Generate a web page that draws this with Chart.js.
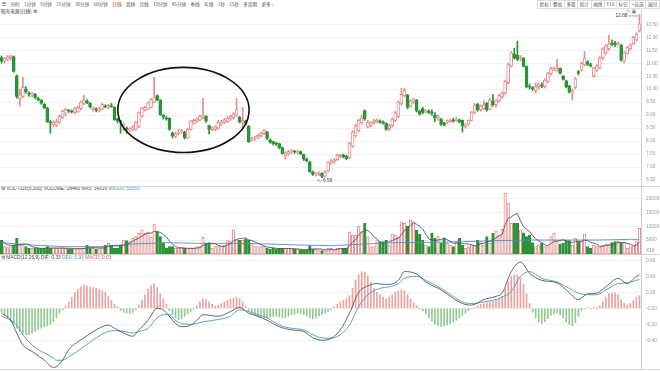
<!DOCTYPE html>
<html>
<head>
<meta charset="utf-8">
<title>日线 K线图</title>
<script src="https://cdn.jsdelivr.net/npm/chart.js"></script>
<style>
  html, body { margin: 0; padding: 0; background: #fff; }
  body { position: relative; width: 660px; height: 371px; overflow: hidden;
         font-family: "Noto Sans CJK SC", "Liberation Sans", sans-serif; color: #555; }
  canvas { position: absolute; left: 0; }
  .tools { position: absolute; left: 2px; top: 1px; font-size: 4.6px; line-height: 7px; white-space: nowrap; }
  .tools span { margin-right: 4.4px; }
  .tools .on { color: #e03030; }
  .btns { position: absolute; left: 537px; top: 0; display: flex; font-size: 4.6px; white-space: nowrap; }
  .btns span { border: 1px solid #dcdcdc; border-left: none; padding: 0 1.6px; line-height: 7px; }
  .btns span:first-child { border-left: 1px solid #dcdcdc; }
  .name { position: absolute; left: 1px; top: 8px; font-size: 4.6px; line-height: 6px; color: #333; white-space: nowrap; }
  .icons { position: absolute; left: 626px; top: 8px; font-size: 5px; line-height: 6px; color: #777; font-family: "DejaVu Sans", sans-serif; }
  .hd { position: absolute; left: 1px; font-size: 4.8px; line-height: 6px; white-space: nowrap; color: #444; font-family: "Liberation Sans", sans-serif; }
  .hline { position: absolute; left: 0; width: 660px; height: 1px; background: #d4d4d4; }
  .vline { position: absolute; left: 641px; top: 10px; width: 1px; height: 360px; background: #cfcfcf; }
</style>
</head>
<body>
<div class="tools"><span>☰</span><span>分时</span><span>1分钟</span><span>5分钟</span><span>15分钟</span><span>30分钟</span><span>60分钟</span><span class="on">日线</span><span>周线</span><span>月线</span><span>10分钟</span><span>45分钟</span><span>季线</span><span>年线</span><span>1秒</span><span>15秒</span><span>多周期</span><span>更多 ›</span></div>
<div class="btns"><span>复权</span><span>叠加</span><span>多股</span><span>统计</span><span>画线</span><span>F10</span><span>标记</span><span>+自选</span><span>返回</span></div>
<div class="name">阳光电源(日线) ⚙</div>
<div class="icons">◇ ▣</div>

<canvas id="kline" width="660" height="176" style="top:10px"></canvas>
<canvas id="vol" width="660" height="61" style="top:193px"></canvas>
<canvas id="macd" width="660" height="111" style="top:258px"></canvas>

<div class="hd" style="top:186px">⚙ VOL-TDX(5,100) VOLUME: 18460 <span style="color:#5d4e6e">MA5: 34316</span> <span style="color:#4f92c4">MA100: 50550</span></div>
<div class="hd" style="top:255px">⚙ MACD(12,26,9) DIF: 0.33 <span style="color:#4a9abb">DEA: 0.32</span> <span style="color:#d06060">MACD: 0.03</span></div>

<div class="hline" style="top:186px"></div>
<div class="hline" style="top:254px"></div>
<div class="hline" style="top:369px"></div>
<div class="vline"></div>

<script>
// daily candles
const opens = [
  11.22,11.08,11.15,11.20,11.26,10.50,9.62,9.72,10.00,9.85,
  9.78,9.80,9.62,9.58,9.42,9.28,8.72,8.62,8.60,8.72,
  8.90,9.05,9.20,9.15,9.10,9.12,9.25,9.45,9.55,9.45,
  9.20,9.22,9.18,9.22,9.35,9.30,9.35,9.30,8.85,8.76,
  8.60,8.50,8.42,8.45,8.45,8.55,8.95,9.20,9.22,9.30,
  9.50,9.75,9.58,9.00,8.90,8.88,8.30,8.18,8.30,8.35,
  8.35,8.12,8.45,8.70,8.78,8.82,8.90,8.95,8.60,8.45,
  8.45,8.50,8.65,8.72,8.75,8.85,8.90,8.98,8.92,8.72,
  8.78,8.58,8.05,8.08,8.15,8.20,8.30,8.35,8.05,7.98,
  7.92,7.90,7.75,7.45,7.50,7.58,7.60,7.55,7.60,7.48,
  7.30,7.20,6.82,6.72,6.72,6.76,6.65,6.85,7.15,7.20,
  7.28,7.40,7.45,7.42,7.35,7.80,8.20,8.40,8.70,9.18,
  8.55,8.60,8.68,8.75,8.78,8.72,8.68,8.48,8.60,8.80,
  8.95,9.45,9.75,9.78,9.35,9.50,9.58,9.15,9.25,9.12,
  9.15,9.12,9.00,8.90,8.85,8.68,8.72,8.75,8.80,8.78,
  8.82,8.80,8.55,8.65,8.80,9.10,9.42,9.20,9.25,9.45,
  9.22,9.55,9.40,9.55,9.70,9.85,10.25,10.90,11.35,11.30,
  11.20,11.20,10.88,10.10,10.05,9.95,10.10,10.15,10.10,10.30,
  10.60,10.75,10.72,10.80,10.50,10.32,10.12,9.90,10.08,10.68,
  10.72,10.95,11.05,10.95,10.50,10.72,10.82,11.20,11.40,11.55,
  11.78,11.78,11.75,11.70,11.08,11.38,11.55,11.75,11.90,12.25
];
const highs = [
  11.28,11.22,11.30,11.32,11.28,10.55,10.00,10.46,10.10,9.90,
  9.88,9.84,9.70,9.60,9.45,9.30,8.80,8.78,8.85,9.00,
  9.20,9.25,9.22,9.20,9.30,9.35,9.55,9.77,9.60,9.48,
  9.32,9.28,9.30,9.45,9.40,9.42,9.45,9.32,8.88,8.80,
  8.70,8.55,8.52,8.60,8.75,9.12,9.30,9.35,9.50,9.65,
  10.46,9.78,9.60,9.02,8.95,8.90,8.35,8.35,8.45,8.45,
  8.38,8.50,8.80,8.85,8.90,9.00,9.65,8.98,8.62,8.55,
  8.60,8.80,8.80,8.88,8.95,9.00,9.10,9.65,8.95,9.30,
  8.80,8.60,8.15,8.18,8.25,8.35,8.45,8.38,8.08,8.00,
  7.95,7.92,7.77,7.60,7.65,7.68,7.65,7.65,7.62,7.50,
  7.35,7.22,6.85,6.80,6.82,6.78,6.85,7.20,7.30,7.32,
  7.50,7.50,7.50,7.45,7.95,8.40,8.65,8.85,9.00,9.20,
  8.80,8.75,8.85,8.85,8.82,8.78,8.70,8.65,8.90,9.15,
  9.55,10.04,10.04,9.80,9.60,9.65,9.60,9.18,9.30,9.22,
  9.20,9.20,9.10,9.00,8.88,8.72,8.82,8.85,8.88,8.92,
  8.85,8.82,8.68,8.82,9.15,9.45,9.45,9.40,9.55,9.48,
  9.65,9.80,9.60,9.80,9.90,10.35,11.00,11.45,11.58,11.85,
  11.30,11.22,10.90,10.20,10.10,10.25,10.25,10.25,10.40,10.65,
  10.85,10.85,11.15,10.82,10.52,10.35,10.15,10.00,10.45,10.72,
  11.05,11.45,11.10,11.00,10.85,10.95,11.25,11.60,11.72,12.08,
  11.90,11.85,11.82,11.72,11.45,11.65,11.75,12.05,12.18,12.88
];
const lows = [
  11.00,11.00,11.10,11.12,10.65,9.65,9.35,9.68,9.85,9.72,
  9.70,9.62,9.55,9.42,9.25,8.72,8.30,8.55,8.55,8.68,
  8.88,8.98,9.10,9.08,9.05,9.10,9.20,9.40,9.44,9.28,
  9.15,9.12,9.12,9.20,9.28,9.25,9.30,8.80,8.70,8.30,
  8.40,8.30,8.36,8.40,8.42,8.52,8.92,9.15,9.20,9.28,
  9.48,9.55,9.00,8.85,8.80,8.42,8.12,8.12,8.25,8.30,
  8.08,8.10,8.42,8.65,8.72,8.78,8.85,8.72,8.28,8.40,
  8.40,8.45,8.60,8.68,8.72,8.80,8.85,8.95,8.70,8.55,
  8.62,7.95,8.00,8.02,8.10,8.15,8.25,8.05,7.92,7.85,
  7.82,7.70,7.50,7.30,7.45,7.52,7.52,7.50,7.48,7.25,
  7.20,6.80,6.68,6.65,6.68,6.58,6.62,6.82,7.10,7.15,
  7.25,7.35,7.35,7.28,7.32,7.75,8.15,8.35,8.65,8.80,
  8.50,8.55,8.65,8.70,8.68,8.65,8.42,8.40,8.55,8.75,
  8.90,9.40,9.70,9.25,9.30,9.45,9.12,9.00,9.05,9.08,
  9.05,9.00,8.75,8.80,8.60,8.58,8.68,8.72,8.72,8.75,
  8.70,8.35,8.50,8.60,8.78,9.05,9.15,9.15,9.20,9.15,
  9.20,9.35,9.30,9.50,9.65,9.80,10.20,10.85,11.15,11.10,
  11.10,10.85,10.05,10.00,9.95,9.85,10.00,10.05,10.05,10.25,
  10.55,10.70,10.68,10.58,10.35,10.05,9.85,9.58,10.02,10.55,
  10.70,10.90,10.90,10.85,10.45,10.68,10.78,11.15,11.35,11.50,
  11.68,11.65,11.70,11.08,11.02,11.35,11.50,11.72,11.85,12.20
];
const closes = [
  11.08,11.18,11.25,11.28,10.68,9.72,9.78,10.08,9.90,9.80,
  9.82,9.68,9.60,9.46,9.28,8.75,8.70,8.72,8.75,8.95,
  9.15,9.22,9.15,9.12,9.25,9.30,9.50,9.58,9.48,9.32,
  9.28,9.20,9.25,9.42,9.32,9.38,9.32,8.82,8.78,8.74,
  8.65,8.45,8.48,8.55,8.72,9.10,9.28,9.30,9.48,9.60,
  9.70,9.60,9.02,8.92,8.85,8.45,8.20,8.28,8.35,8.40,
  8.12,8.45,8.78,8.80,8.85,8.95,9.00,8.78,8.45,8.50,
  8.55,8.72,8.75,8.82,8.90,8.95,9.05,9.20,8.75,8.80,
  8.70,7.98,8.10,8.12,8.22,8.30,8.40,8.10,7.95,7.90,
  7.88,7.75,7.52,7.55,7.60,7.62,7.58,7.60,7.52,7.30,
  7.25,6.82,6.72,6.75,6.78,6.64,6.80,7.18,7.25,7.28,
  7.45,7.45,7.40,7.32,7.92,8.35,8.60,8.80,8.90,8.85,
  8.72,8.70,8.75,8.80,8.72,8.70,8.45,8.60,8.85,9.10,
  9.50,9.80,9.95,9.30,9.55,9.60,9.15,9.05,9.10,9.18,
  9.10,9.08,8.88,8.95,8.65,8.62,8.78,8.80,8.78,8.85,
  8.75,8.58,8.62,8.80,9.12,9.40,9.20,9.35,9.40,9.20,
  9.58,9.38,9.55,9.75,9.85,10.30,10.95,11.40,11.20,11.15,
  11.22,10.88,10.10,10.08,10.02,10.10,10.20,10.12,10.35,10.60,
  10.80,10.78,10.80,10.62,10.38,10.10,9.88,9.92,10.40,10.62,
  11.00,11.20,10.95,10.90,10.82,10.90,11.20,11.55,11.68,11.75,
  11.72,11.70,11.78,11.12,11.40,11.60,11.70,12.00,12.12,12.52
];
const volumes = [
  5040,2640,2280,2640,3240,5640,3240,3240,2640,2040,
  2040,2040,2040,2040,2040,2640,2040,2040,2040,2040,
  2280,2040,1800,1680,1920,2040,2040,2040,3240,2040,
  2040,1800,2040,2640,3240,3840,3240,2040,2040,3240,
  5040,4800,4440,5640,6240,7440,8640,7440,8040,6000,
  10800,8040,6240,4080,2040,2640,2640,2040,2040,2040,
  2040,2040,2040,2040,2640,2640,6000,3840,4080,2040,
  2640,2640,2880,3240,4800,4440,8640,5040,5040,5040,
  5280,5040,3840,2640,2640,2640,2640,2040,1800,2040,
  1800,2040,2040,2040,2040,1680,1680,1680,1440,1440,
  1440,3000,1680,1680,1440,1200,1200,2040,2040,1200,
  2040,2040,2040,2040,8040,6840,6840,10080,8040,11040,
  6240,2640,2640,4800,4440,4440,5040,3240,7200,6840,
  6000,11640,11040,10080,12240,11640,8640,7200,5040,3240,
  2640,7440,5640,6480,3840,5640,3840,3240,2640,4440,
  5640,3240,2040,2640,3240,3240,5040,4440,3240,6240,
  3840,7440,8400,6840,8880,21840,18240,11040,11040,11040,
  8640,7680,6240,6840,4080,2640,3240,3840,2640,2640,
  6240,7440,4440,3600,3840,4800,4800,3240,5640,4440,
  4440,7200,2640,2040,3240,2640,2640,3240,3600,3600,
  4080,4440,4680,3840,4080,2040,2640,2880,4440,9240
];
// MA100 of volume, read every ~10 bars: [bar, value]
const ma100Pts = [[0,4080],[10,3240],[21,2640],[32,2640],[43,3600],[54,4080],[65,3840],[76,3840],
  [87,3600],[98,3240],[108,3000],[119,3600],[129,4080],[140,4200],[151,4440],[162,4800],
  [173,5040],[184,5040],[195,5040],[206,5280],[209,5280]];
const macdHist = [
  -0.05,-0.08,-0.12,-0.16,-0.2,-0.25,-0.29,-0.32,-0.33,-0.33,-0.31,-0.29,-0.27,-0.25,-0.23,-0.22,-0.2,-0.17,-0.12,-0.06,-0.02,
  0.03,0.08,0.14,0.2,0.24,0.27,0.29,0.28,0.27,0.26,0.25,0.24,0.22,0.2,0.15,0.1,0.05,0.02,
  -0.03,-0.05,-0.06,-0.06,-0.05,-0.02,
  0.04,0.1,0.17,0.24,0.28,0.31,0.26,0.18,0.12,0.05,
  -0.03,-0.08,-0.12,-0.14,-0.13,-0.1,-0.07,-0.04,-0.01,
  0.03,0.08,0.12,0.11,0.08,0.05,0.03,0.04,0.06,0.08,0.1,0.12,0.13,0.14,0.12,0.08,0.03,
  -0.03,-0.06,-0.08,-0.1,-0.11,-0.12,-0.12,-0.11,-0.1,-0.1,-0.11,-0.12,-0.12,-0.1,-0.08,-0.07,-0.06,-0.07,-0.08,-0.1,-0.12,-0.13,-0.12,-0.1,-0.08,-0.06,-0.04,-0.02,
  0.02,0.05,0.08,0.1,0.12,0.16,0.25,0.35,0.42,0.46,0.45,0.4,0.33,0.25,0.2,0.17,0.14,0.12,0.14,0.17,0.2,0.22,0.23,0.22,0.17,0.12,0.07,0.03,
  -0.01,-0.03,-0.07,-0.12,-0.16,-0.2,-0.22,-0.23,-0.22,-0.21,-0.19,-0.17,-0.15,-0.12,-0.09,-0.06,-0.03,-0.01,
  0.01,0.03,0.05,0.06,0.07,0.08,0.09,0.1,0.12,0.15,0.24,0.33,0.4,0.42,0.42,0.38,0.3,0.18,0.06,
  -0.05,-0.12,-0.17,-0.19,-0.17,-0.13,-0.09,-0.07,-0.06,-0.08,-0.12,-0.17,-0.2,-0.22,-0.18,-0.1,-0.03,
  -0.01,0.01,-0.01,0.01,0.01,
  0.03,0.08,0.14,0.18,0.19,0.19,0.17,0.11,0.06,0.04,0.06,0.1,0.14,0.16
];
// DIF / DEA read every few bars: [bar, value]
const difPts = [[0,-0.06],[3,-0.15],[5,-0.31],[7,-0.46],[10,-0.54],[14,-0.65],[17,-0.74],[18,-0.73],[20,-0.65],
  [22,-0.52],[27,-0.37],[31,-0.27],[35,-0.21],[37,-0.25],[40,-0.31],[43,-0.35],[45,-0.27],[48,-0.15],[51,0.0],
  [53,-0.02],[55,-0.10],[57,-0.19],[59,-0.23],[62,-0.21],[64,-0.15],[66,-0.08],[71,-0.10],[75,-0.04],[78,0.01],
  [81,-0.06],[84,-0.10],[87,-0.15],[91,-0.23],[95,-0.27],[99,-0.29],[102,-0.37],[105,-0.40],[108,-0.375],
  [111,-0.27],[114,-0.06],[117,0.20],[120,0.28],[123,0.31],[125,0.30],[127,0.30],[130,0.35],[132,0.46],
  [136,0.43],[139,0.33],[144,0.23],[148,0.125],[151,0.06],[154,0.04],[158,0.11],[162,0.15],[164,0.19],
  [167,0.46],[170,0.58],[173,0.44],[177,0.35],[182,0.32],[185,0.23],[189,0.11],[192,0.18],[195,0.19],
  [198,0.27],[202,0.375],[205,0.31],[208,0.40],[209,0.42]];
const deaPts = [[0,-0.10],[3,-0.15],[5,-0.21],[7,-0.33],[10,-0.46],[14,-0.56],[17,-0.62],[18,-0.65],[20,-0.65],
  [22,-0.61],[27,-0.48],[31,-0.37],[35,-0.29],[37,-0.28],[40,-0.29],[43,-0.31],[45,-0.29],[48,-0.25],[51,-0.12],
  [53,-0.08],[55,-0.08],[57,-0.15],[59,-0.19],[62,-0.20],[64,-0.19],[66,-0.17],[71,-0.14],[75,-0.10],[78,-0.02],
  [81,-0.04],[84,-0.08],[87,-0.12],[91,-0.21],[95,-0.25],[99,-0.27],[102,-0.33],[105,-0.37],[108,-0.375],
  [111,-0.33],[114,-0.21],[117,0.02],[120,0.17],[124,0.25],[127,0.27],[130,0.31],[132,0.375],[136,0.40],
  [139,0.35],[144,0.25],[148,0.15],[151,0.08],[154,0.06],[158,0.08],[162,0.11],[164,0.14],[167,0.21],
  [170,0.40],[173,0.46],[177,0.375],[182,0.33],[185,0.27],[189,0.19],[192,0.17],[195,0.17],[198,0.23],
  [202,0.31],[205,0.32],[208,0.35],[209,0.36]];

const priceTicks = [6.5,7,7.5,8,8.5,9,9.5,10,10.5,11,11.5,12,12.5];
const volTicks = [1100,5000,10000,15000,20000];
const macdTicks = [-0.4,-0.2,0,0.2,0.4,0.6];

// bar index is the category
const days = opens.map((_, i) => i);
const isUp = closes.map((c, i) => c >= opens[i]);
const RED = '#e98b8b';
const GREEN = '#2a9437';

// the hand-drawn ring around the base, in bar / price units
const ring = { bar: 59.6, price: 9.2, halfBars: 21.5, halfPrice: 1.64 };

const ma5 = volumes.map((v, i) => {
  const s = volumes.slice(Math.max(0, i - 4), i + 1);
  return s.reduce((a, b) => a + b, 0) / s.length;
});
const pts = arr => arr.map(([x, y]) => ({x, y}));

function rightAxis(min, max, ticks, fmt, skipGrid) {
  return {
    position: 'right', min, max,
    afterBuildTicks: s => { s.ticks = ticks.map(v => ({value: v})); },
    afterFit: s => { s.width = 19; s.paddingTop = 0; s.paddingBottom = 0; },
    grid: {
      drawTicks: false,
      color: c => (skipGrid && c.tick && c.tick.value === skipGrid) ? 'rgba(0,0,0,0)' : '#f0f0f0'
    },
    border: {display: false},
    ticks: {font: {size: 4.8, family: 'Liberation Sans'}, color: '#999', padding: 5, callback: fmt}
  };
}

const base = {
  animation: false, responsive: false, events: [],
  layout: {padding: 0},
  plugins: {legend: {display: false}, tooltip: {enabled: false}}
};

const marks = {
  id: 'marks',
  afterDatasetsDraw(chart) {
    const {ctx, scales: {x, y}} = chart;
    ctx.save();
    // ring
    const cx = x.getPixelForValue(ring.bar), cy = y.getPixelForValue(ring.price);
    const rx = x.getPixelForValue(ring.bar + ring.halfBars) - cx;
    const ry = y.getPixelForValue(ring.price - ring.halfPrice) - cy;
    ctx.strokeStyle = '#111';
    ctx.lineWidth = 1.6;
    ctx.beginPath();
    ctx.ellipse(cx, cy, rx, ry, 0, 0, Math.PI * 2);
    ctx.stroke();

    // highest / lowest price tags
    const hi = highs.indexOf(Math.max(...highs));
    const lo = lows.indexOf(Math.min(...lows));
    const hx = x.getPixelForValue(hi), hy = y.getPixelForValue(highs[hi]) + 1.5;
    const lx = x.getPixelForValue(lo), ly = y.getPixelForValue(lows[lo]) + 1;
    ctx.strokeStyle = '#777';
    ctx.lineWidth = 0.7;
    ctx.beginPath();
    ctx.moveTo(hx - 1.5, hy); ctx.lineTo(hx - 11, hy);
    ctx.moveTo(lx - 4, ly); ctx.lineTo(lx - 4, ly + 2); ctx.lineTo(lx, ly + 2);
    ctx.stroke();
    ctx.fillStyle = '#444';
    ctx.font = '4.8px "Liberation Sans"';
    ctx.textBaseline = 'middle';
    ctx.textAlign = 'right';
    ctx.fillText(highs[hi].toFixed(2), hx - 12, hy);
    ctx.textAlign = 'left';
    ctx.fillText(lows[lo].toFixed(2), lx + 1, ly + 2);
    ctx.restore();
  }
};

new Chart(document.getElementById('kline'), {
  type: 'bar',
  data: {
    labels: days,
    datasets: [
      { // bodies
        data: opens.map((o, i) => [o, closes[i]]),
        backgroundColor: isUp.map(u => u ? '#fff' : GREEN),
        borderColor: isUp.map(u => u ? RED : GREEN),
        borderWidth: 1, borderSkipped: false, barThickness: 3, minBarLength: 1,
        grouped: false, order: 0
      },
      { // wicks
        data: lows.map((l, i) => [l, highs[i]]),
        backgroundColor: isUp.map(u => u ? RED : GREEN),
        barThickness: 1, grouped: false, order: 1
      }
    ]
  },
  options: {
    ...base,
    scales: {
      x: {display: false, offset: true},
      y: rightAxis(6.27, 13.05, priceTicks, v => v.toFixed(2))
    }
  },
  plugins: [marks]
});

new Chart(document.getElementById('vol'), {
  type: 'bar',
  data: {
    labels: days,
    datasets: [
      {type: 'line', data: ma5, borderColor: '#5d4e6e', borderWidth: 0.9, pointRadius: 0, order: 0},
      {type: 'line', data: pts(ma100Pts), borderColor: '#4f92c4', borderWidth: 0.9, pointRadius: 0, order: 0},
      {
        data: volumes,
        backgroundColor: isUp.map(u => u ? '#fff' : GREEN),
        borderColor: isUp.map(u => u ? RED : GREEN),
        borderWidth: 1, borderSkipped: false, barThickness: 2.6, order: 1
      }
    ]
  },
  options: {
    ...base,
    scales: {
      x: {display: false, offset: true},
      y: rightAxis(0, 22000, volTicks, v => v === volTicks[0] ? 'X10' : String(v), volTicks[0])
    }
  }
});

new Chart(document.getElementById('macd'), {
  type: 'bar',
  data: {
    labels: days,
    datasets: [
      {type: 'line', data: pts(difPts), borderColor: '#555', borderWidth: 0.9, pointRadius: 0,
       cubicInterpolationMode: 'monotone', order: 0},
      {type: 'line', data: pts(deaPts), borderColor: '#4a9abb', borderWidth: 0.9, pointRadius: 0,
       cubicInterpolationMode: 'monotone', order: 0},
      {
        data: macdHist,
        backgroundColor: macdHist.map(v => v >= 0 ? '#eaa2a2' : '#93c893'),
        barThickness: 1, order: 1
      }
    ]
  },
  options: {
    ...base,
    scales: {
      x: {display: false, offset: true},
      y: rightAxis(-0.76, 0.63, macdTicks, v => v === 0 ? '-0.00' : v.toFixed(2))
    }
  }
});
</script>
</body>
</html>
